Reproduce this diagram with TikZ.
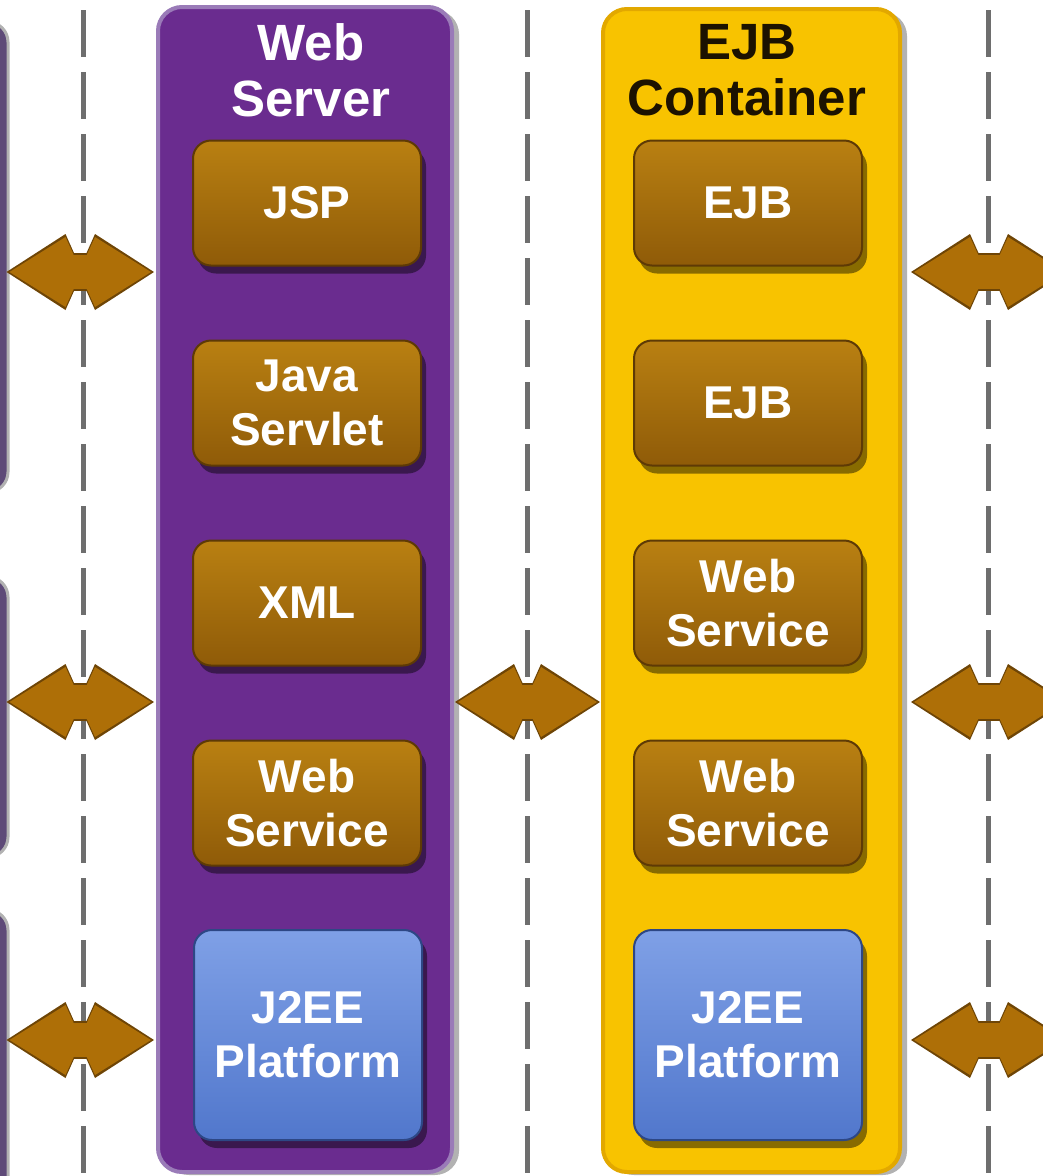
\documentclass[tikz,border=0pt]{standalone}
\usepackage{fontspec}
\setmainfont{Liberation Sans}
\usetikzlibrary{arrows.meta,shadows}

% --- Colours ---
\definecolor{serverPurple}{HTML}{6A2C8F}
\definecolor{serverRim}{HTML}{9A7BB8}
\definecolor{containerGold}{HTML}{F8C300}
\definecolor{containerRim}{HTML}{E2A800}
\definecolor{compTop}{HTML}{B98012}
\definecolor{compBottom}{HTML}{8F5B08}
\definecolor{compRim}{HTML}{5E3A05}
\definecolor{platTop}{HTML}{7FA0E6}
\definecolor{platBottom}{HTML}{5177CC}
\definecolor{platRim}{HTML}{2D4785}
\definecolor{linkBrown}{HTML}{AE6F07}
\definecolor{linkRim}{HTML}{6E4506}
\definecolor{tierGray}{HTML}{5E4A78}
\definecolor{sepGray}{HTML}{6E6E6E}
\definecolor{titleDark}{HTML}{1C1200}

\begin{document}
\begin{tikzpicture}[x=1pt, y=-1pt,
    tier/.style={rounded corners=20pt, fill=tierGray, draw=gray!60, line width=3pt},
    panel/.style={rounded corners=24pt, line width=4pt,
      drop shadow={shadow xshift=7pt, shadow yshift=-3pt, fill=black, opacity=0.3}},
    heading/.style={font=\fontsize{51}{56}\selectfont\bfseries, align=center},
    comp/.style={rounded corners=18pt, minimum width=228pt, minimum height=125pt,
      top color=compTop, bottom color=compBottom, draw=compRim, line width=2pt,
      text=white, font=\fontsize{46}{54}\selectfont\bfseries, align=center,
      drop shadow={shadow xshift=5pt, shadow yshift=-8pt, fill=black, opacity=0.45}},
    platform/.style={comp, minimum height=210pt,
      top color=platTop, bottom color=platBottom, draw=platRim},
    sep/.style={draw=sepGray, line width=5pt, dash pattern=on 47pt off 15pt},
    link/.style={draw=linkBrown, line width=34pt,
      >={Kite[length=72pt, width=70pt, inset=16pt, line width=0pt, color=linkBrown, fill=linkBrown]}, <->,
      preaction={draw=linkRim, line width=38pt, shorten <=-3pt, shorten >=-3pt,
        >={Kite[length=76pt, width=76pt, inset=17pt, line width=0pt, color=linkRim, fill=linkRim]}}}
  ]

    % --- Frame ---
    \useasboundingbox (0,0) rectangle (1043,1176);
    \clip (0,0) rectangle (1043,1176);

    % --- Coordinates ---
    % where the links cross the dashed tier borders
    \coordinate (t1) at (83,272);
    \coordinate (t2) at (83,702);
    \coordinate (t3) at (83,1040);
    \coordinate (m2) at (527,702);
    \coordinate (out1) at (1064,272);
    \coordinate (out2) at (1064,702);
    \coordinate (out3) at (1064,1040);

    % --- Client tier (cut off at the left edge) ---
    \node[tier, minimum width=60pt, minimum height=470pt] (cl1) at (-22,257) {};
    \node[tier, minimum width=60pt, minimum height=280pt] (cl2) at (-22,717) {};
    \node[tier, minimum width=60pt, minimum height=340pt] (cl3) at (-22,1080) {};

    % --- Tier borders ---
    \draw[sep] (83,10) -- (83,1180);
    \draw[sep] (527,10) -- (527,1180);
    \draw[sep] (988,10) -- (988,1180);

    % --- Containers ---
    \node[panel, fill=serverPurple, draw=serverRim,
          minimum width=294pt, minimum height=1165pt] (ws) at (305,589.5) {};
    \node[panel, fill=containerGold, draw=containerRim,
          minimum width=297pt, minimum height=1163pt] (ejb) at (751.5,590.5) {};

    \node[heading, text=white] (wsTitle) at (311,70) {Web\\Server};
    \node[heading, text=titleDark] (ejbTitle) at (747,70) {EJB\\Container};

    % --- Web server components ---
    \node[comp] (jsp) at (307,203) {JSP};
    \node[comp] (servlet) at (307,403) {Java\\Servlet};
    \node[comp] (xml) at (307,603) {XML};
    \node[comp] (wsService) at (307,803) {Web\\Service};
    \node[platform] (wsPlatform) at (308,1035) {J2EE\\Platform};

    % --- EJB container components ---
    \node[comp] (ejbA) at (748,203) {EJB};
    \node[comp] (ejbB) at (748,403) {EJB};
    \node[comp] (ejbServiceA) at (748,603) {Web\\Service};
    \node[comp] (ejbServiceB) at (748,803) {Web\\Service};
    \node[platform] (ejbPlatform) at (748,1035) {J2EE\\Platform};

    % --- Links between tiers ---
    \draw[link] (cl1.east |- t1) -- ([xshift=-5pt]ws.west |- t1);
    \draw[link] (cl2.east |- t2) -- ([xshift=-5pt]ws.west |- t2);
    \draw[link] (cl3.east |- t3) -- ([xshift=-5pt]ws.west |- t3);
    \draw[link] ([xshift=4pt]ws.east |- m2) -- ([xshift=-4pt]ejb.west |- m2);
    \draw[link] ([xshift=12pt]ejb.east |- out1) -- (out1);
    \draw[link] ([xshift=12pt]ejb.east |- out2) -- (out2);
    \draw[link] ([xshift=12pt]ejb.east |- out3) -- (out3);

\end{tikzpicture}
\end{document}
